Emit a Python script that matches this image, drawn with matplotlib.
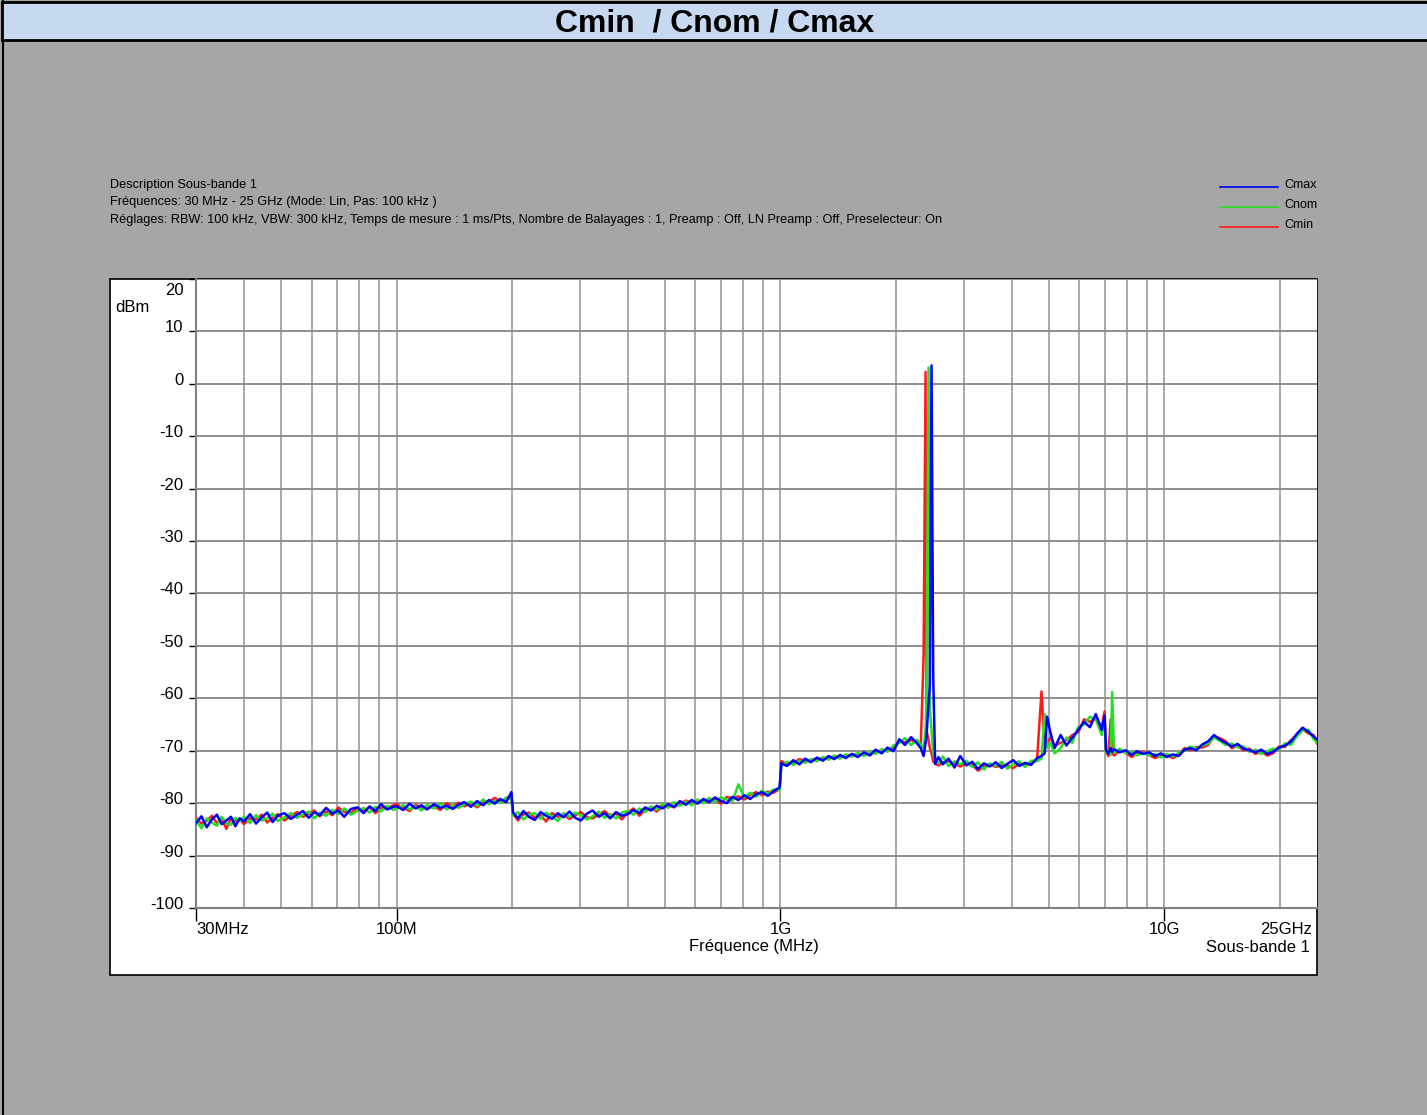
import matplotlib
matplotlib.use("Agg")
import matplotlib.pyplot as plt
from matplotlib.patches import Rectangle
from matplotlib.lines import Line2D
from matplotlib.transforms import ScaledTranslation

plt.rcParams['font.family'] = ['Liberation Sans', 'DejaVu Sans']

TITLE = "Cmin  / Cnom / Cmax"
DESCRIPTION = [
    "Description Sous-bande 1",
    "Fréquences: 30 MHz - 25 GHz (Mode: Lin, Pas: 100 kHz )",
    "Réglages: RBW: 100 kHz, VBW: 300 kHz, Temps de mesure : 1 ms/Pts, Nombre de Balayages : 1, "
    "Preamp : Off, LN Preamp : Off, Preselecteur: On",
]
SERIES_NAMES = ["Cmax", "Cnom", "Cmin"]
SERIES_COLORS = ["#0000ff", "#22e022", "#ff1a1a"]

X_TICKS = [30, 100, 1000, 10000, 25000]
X_TICK_LABELS = ["30MHz", "100M", "1G", "10G", "25GHz"]
X_GRID_MINOR = [40, 50, 60, 70, 80, 90, 200, 300, 400, 500, 600, 700, 800, 900,
                2000, 3000, 4000, 5000, 6000, 7000, 8000, 9000, 20000]
Y_TICKS = [-100, -90, -80, -70, -60, -50, -40, -30, -20, -10, 0, 10, 20]

FREQ_MHZ = [
    30, 31, 32, 33, 34, 35, 36, 37, 38, 39,
    40, 41.5, 43, 44.5, 46, 47.5, 49, 51, 53, 55,
    57, 59, 61, 63, 65.5, 68, 70.5, 73, 76, 79,
    82, 85, 88, 91, 94.5, 98,
    100, 104, 108, 112, 116, 120, 125, 130, 135, 140,
    145, 150, 156, 162, 168, 174, 180, 186, 193, 199,
    201, 207, 214, 221, 229, 237, 245, 254, 263, 272,
    282, 292, 302, 313, 324, 336, 348, 360, 373, 386,
    400, 414, 429, 444, 460, 476, 493, 510, 528, 547,
    567, 587, 608, 630, 652, 675, 699, 724, 750, 777,
    805, 834, 864, 895, 927, 960, 995,
    1005, 1040, 1080, 1120, 1160, 1200, 1245, 1290, 1335, 1380,
    1430, 1480, 1535, 1590, 1650, 1710, 1770, 1835, 1900, 1970,
    2040, 2110, 2190, 2270, 2320,
    2360, 2388, 2400, 2431, 2450, 2475, 2500, 2530,
    2580, 2650, 2740, 2840, 2940, 3050, 3160, 3270, 3390, 3510,
    3640, 3770, 3900, 4040, 4190, 4340, 4500, 4660,
    4788, 4878, 4950, 5050, 5180, 5370, 5560, 5760, 5970, 6180,
    6400, 6630, 6870, 6990,
    7050, 7150, 7250, 7314, 7400, 7650, 7930, 8210, 8500, 8810,
    9130, 9460, 9800, 10150, 10520, 10900, 11290, 11700, 12120, 12560,
    13010, 13480, 13970, 14470, 14990, 15530, 16090, 16670, 17270, 17890,
    18540, 19210, 19900, 20620, 21360, 22130, 22930, 23760, 24500, 25000,
]

CMAX_DBM = [
    -83.8, -82.5, -84.6, -83.1, -82.2, -84.0, -83.3, -82.6, -84.4, -82.9,
    -83.5, -82.1, -83.9, -82.7, -81.8, -83.6, -82.4, -81.9, -83.0, -82.2,
    -81.5, -82.8, -81.7, -82.3, -80.9, -82.0, -81.4, -82.6, -81.1, -80.8,
    -81.9, -80.6, -81.5, -80.2, -81.2, -80.7,
    -80.6, -81.3, -80.1, -81.0, -80.4, -81.2, -80.2, -80.9, -80.5, -81.1,
    -80.3, -79.8, -80.7, -79.6, -80.4, -79.4, -80.1, -79.2, -79.8, -77.9,
    -81.8, -82.9, -81.5, -82.6, -83.2, -81.7, -82.4, -83.0, -81.9, -82.7,
    -81.6, -82.8, -83.3, -82.0, -81.4, -82.6, -81.9, -82.9, -81.7, -82.4,
    -82.1, -81.3, -81.9, -80.8, -81.4, -80.5, -81.0, -80.2, -80.7, -79.6,
    -80.3, -79.4, -80.1, -79.2, -79.8, -78.9, -79.6, -80.0, -78.8, -79.4,
    -78.5, -79.2, -78.3, -77.9, -78.6, -77.7, -77.0,
    -72.4, -72.9, -71.8, -72.6, -71.5, -72.2, -71.3, -71.9, -71.0, -71.6,
    -70.8, -71.4, -70.6, -71.2, -70.3, -70.9, -69.8, -70.5, -69.4, -70.1,
    -67.8, -68.9, -67.4, -68.6, -69.5,
    -71.0, -68.5, -67.5, -61.0, -57.5, 3.5, -56.0, -72.5,
    -71.2, -72.6, -71.5, -73.2, -71.0, -72.8, -72.1, -73.5, -72.4, -73.0,
    -72.2, -73.3, -72.5, -71.8, -72.9, -72.3, -72.7, -71.4,
    -71.0, -70.5, -63.5, -66.5, -69.5, -67.0, -69.0, -67.5, -66.0, -64.5,
    -65.5, -63.0, -66.0, -63.3,
    -69.8, -70.6, -69.5, -70.2, -69.7, -70.3, -69.9, -70.8, -70.1, -70.6,
    -70.3, -71.0, -70.5, -71.2, -70.7, -71.0, -69.8, -69.5, -69.9, -68.8,
    -68.2, -67.0, -67.9, -68.5, -69.2, -68.7, -69.6, -69.9, -70.3, -69.8,
    -70.6, -70.2, -69.4, -69.0, -68.3, -66.8, -65.6, -66.4, -67.3, -67.8,
]

CNOM_DBM = [
    -83.2, -84.8, -82.9, -83.7, -84.3, -82.6, -83.9, -84.1, -82.8, -83.4,
    -82.6, -83.8, -82.3, -83.3, -82.9, -82.0, -83.4, -82.7, -81.9, -82.8,
    -82.2, -81.6, -82.9, -81.8, -82.4, -81.3, -82.1, -81.0, -82.2, -81.5,
    -80.9, -81.8, -80.7, -81.6, -80.5, -81.3,
    -81.0, -80.4, -81.2, -80.6, -81.4, -80.3, -81.0, -80.1, -81.2, -80.4,
    -80.9, -80.2, -79.7, -80.5, -79.3, -80.2, -79.5, -80.0, -78.9, -79.2,
    -82.4, -81.7, -83.1, -82.2, -81.9, -83.0, -81.8, -82.5, -83.4, -81.9,
    -82.6, -81.8, -82.3, -83.1, -82.5, -81.6, -82.8, -82.1, -82.9, -81.8,
    -81.5, -82.2, -81.0, -81.7, -80.6, -81.3, -80.1, -80.9, -79.8, -80.5,
    -79.7, -80.4, -79.3, -80.0, -79.0, -79.8, -78.9, -79.3, -79.6, -76.4,
    -78.9, -78.0, -78.8, -77.6, -78.2, -77.4, -77.5,
    -72.8, -72.1, -72.7, -71.9, -72.3, -71.6, -72.0, -71.2, -71.7, -70.9,
    -71.5, -70.7, -71.1, -70.4, -71.0, -70.2, -70.6, -69.7, -70.2, -69.0,
    -68.5, -67.6, -68.9, -67.9, -68.8,
    -69.5, -66.0, -61.5, 3.1, -62.0, -66.0, -70.5, -72.0,
    -72.4, -71.1, -72.9, -72.0, -72.6, -71.9, -73.1, -72.2, -73.6, -72.4,
    -72.9, -72.1, -73.4, -72.6, -72.0, -73.1, -71.9, -72.0,
    -71.5, -63.0, -69.5, -68.5, -70.5, -69.5, -67.5, -68.5, -65.5, -65.0,
    -63.5, -64.0, -67.0, -64.0,
    -70.4, -69.9, -70.8, -58.8, -70.4, -69.6, -70.5, -70.2, -70.9, -70.4,
    -70.9, -70.6, -71.3, -70.6, -71.1, -70.4, -70.0, -69.2, -69.6, -69.0,
    -68.6, -67.5, -68.1, -68.9, -68.6, -69.4, -69.2, -70.2, -69.8, -70.6,
    -70.1, -69.6, -69.8, -68.6, -68.9, -67.3, -66.1, -66.0, -67.8, -68.4,
]

CMIN_DBM = [
    -82.9, -83.9, -83.4, -82.4, -83.8, -83.0, -84.9, -82.8, -83.5, -83.0,
    -84.0, -82.9, -83.1, -82.2, -83.7, -82.8, -82.1, -83.3, -82.4, -81.7,
    -82.6, -82.0, -81.4, -82.5, -81.6, -82.3, -80.8, -81.7, -81.9, -80.9,
    -81.4, -80.8, -81.9, -80.9, -81.0, -80.4,
    -80.2, -80.9, -81.5, -80.3, -80.8, -81.0, -80.6, -81.3, -80.0, -80.7,
    -79.9, -80.6, -80.0, -80.8, -79.8, -79.7, -79.0, -79.6, -79.3, -78.3,
    -82.0, -83.3, -82.1, -81.8, -82.8, -82.3, -83.5, -81.9, -82.6, -82.2,
    -83.0, -82.3, -81.7, -82.7, -82.9, -82.2, -81.5, -82.4, -82.0, -83.1,
    -81.8, -81.0, -82.4, -81.2, -80.9, -81.6, -80.6, -80.4, -80.8, -80.1,
    -79.5, -80.0, -79.8, -79.5, -79.3, -79.2, -80.1, -78.8, -79.1, -78.7,
    -79.3, -78.4, -77.9, -78.5, -77.8, -78.0, -77.3,
    -72.0, -72.5, -72.3, -71.6, -72.0, -71.8, -71.5, -71.6, -71.3, -71.1,
    -71.2, -70.8, -70.9, -70.6, -70.7, -70.5, -70.1, -70.0, -69.8, -69.5,
    -68.2, -68.4, -68.0, -68.3, -69.1,
    -52.0, 2.3, -66.0, -68.0, -69.5, -70.5, -72.0, -72.5,
    -72.8, -72.2, -72.0, -72.5, -73.0, -72.4, -72.7, -73.8, -72.9, -72.6,
    -73.1, -72.7, -72.8, -73.3, -72.5, -72.7, -72.4, -71.8,
    -58.7, -69.0, -68.5, -67.5, -69.0, -68.5, -68.0, -67.0, -66.5, -64.0,
    -64.5, -63.8, -65.5, -62.5,
    -70.1, -71.0, -64.0, -70.5, -70.9, -70.0, -70.3, -71.2, -70.5, -70.2,
    -70.8, -71.4, -70.9, -70.8, -71.4, -70.8, -69.5, -69.9, -69.3, -69.4,
    -68.9, -67.3, -67.6, -68.2, -69.5, -69.0, -69.9, -69.6, -70.6, -70.2,
    -70.9, -70.5, -69.2, -69.3, -68.0, -67.2, -65.9, -66.7, -67.0, -68.6,
]

W, H = 1427, 1115
fig = plt.figure(figsize=(W / 100, H / 100), dpi=100, facecolor="#a6a6a6")


def fx(px):
    return px / W


def fy(py):
    return 1 - py / H


# outer left border and title bar
fig.add_artist(Line2D([fx(2.5), fx(2.5)], [0, 1], color="black", lw=1.5, zorder=-4))
fig.add_artist(Rectangle((fx(2), fy(40)), fx(1428) - fx(2), 38 / H, facecolor="#c6d9f1",
                         edgecolor="black", lw=2, zorder=-4))
fig.text(fx(715), fy(24), TITLE, ha="center", va="center", fontsize=23, fontweight="bold")

# description text
for i, line in enumerate(DESCRIPTION):
    fig.text(fx(110), fy(185 + i * 17.5), line, ha="left", va="center", fontsize=9.15)

# legend
for i, (name, col) in enumerate(zip(SERIES_NAMES, SERIES_COLORS)):
    yy = fy(187 + i * 20)
    fig.add_artist(Line2D([fx(1220), fx(1278)], [yy, yy], color=col, lw=1.2))
    fig.text(fx(1284), fy(185 + i * 20), name, ha="left", va="center", fontsize=9)

# white panel
fig.add_artist(Rectangle((fx(110), fy(975)), (1317 - 110) / W, (975 - 279) / H,
                         facecolor="white", edgecolor="black", lw=1.2, zorder=-3))

ax = fig.add_axes([fx(196), fy(908), (1317 - 196) / W, (908 - 279) / H])
ax.set_facecolor("white")
ax.set_xscale("log")
ax.set_xlim(30, 25000)
ax.set_ylim(-100, 20)

for x in X_GRID_MINOR + X_TICKS[1:-1]:
    ax.axvline(x, color="#a8a8a8", lw=1.4, zorder=1)
for y in Y_TICKS[1:]:
    ax.axhline(y, color="#8e8e8e", lw=1.4, zorder=1)

for name, col, vals in zip(["Cmin", "Cnom", "Cmax"], SERIES_COLORS[::-1],
                           [CMIN_DBM, CNOM_DBM, CMAX_DBM]):
    ax.plot(FREQ_MHZ, vals, color=col, lw=1.8, zorder=3)

ax.set_xticks(X_TICKS, X_TICK_LABELS)
ax.set_xticks([], minor=True)
ax.tick_params(axis="x", which="major", length=9, width=1, color="black", pad=1, labelsize=12)
ax.set_yticks(Y_TICKS, [str(v) for v in Y_TICKS])
ax.tick_params(axis="y", which="major", length=5, width=1, color="black", pad=4, labelsize=12)
ax.xaxis.get_major_ticks()[-1].tick1line.set_visible(False)

xl = ax.get_xticklabels()
xl[0].set_ha("left")
xl[-1].set_ha("right")
xl[-1].set_transform(xl[-1].get_transform() + ScaledTranslation(-0.05, 0, fig.dpi_scale_trans))
for lab, v in zip(ax.get_yticklabels(), Y_TICKS):
    dy = -0.10 if v == 20 else 0.05
    lab.set_transform(lab.get_transform() + ScaledTranslation(0, dy, fig.dpi_scale_trans))

for s in ["top", "right"]:
    ax.spines[s].set_visible(False)
for s in ["left", "bottom"]:
    ax.spines[s].set_color("#808080")
    ax.spines[s].set_linewidth(1.5)

fig.text(fx(115), fy(307), "dBm", ha="left", va="center", fontsize=12)
fig.text(fx(754), fy(947), "Fréquence (MHz)", ha="center", va="center", fontsize=12)
fig.text(fx(1310), fy(948), "Sous-bande 1", ha="right", va="center", fontsize=12)

fig.savefig("out.png", dpi=100, facecolor=fig.get_facecolor())
